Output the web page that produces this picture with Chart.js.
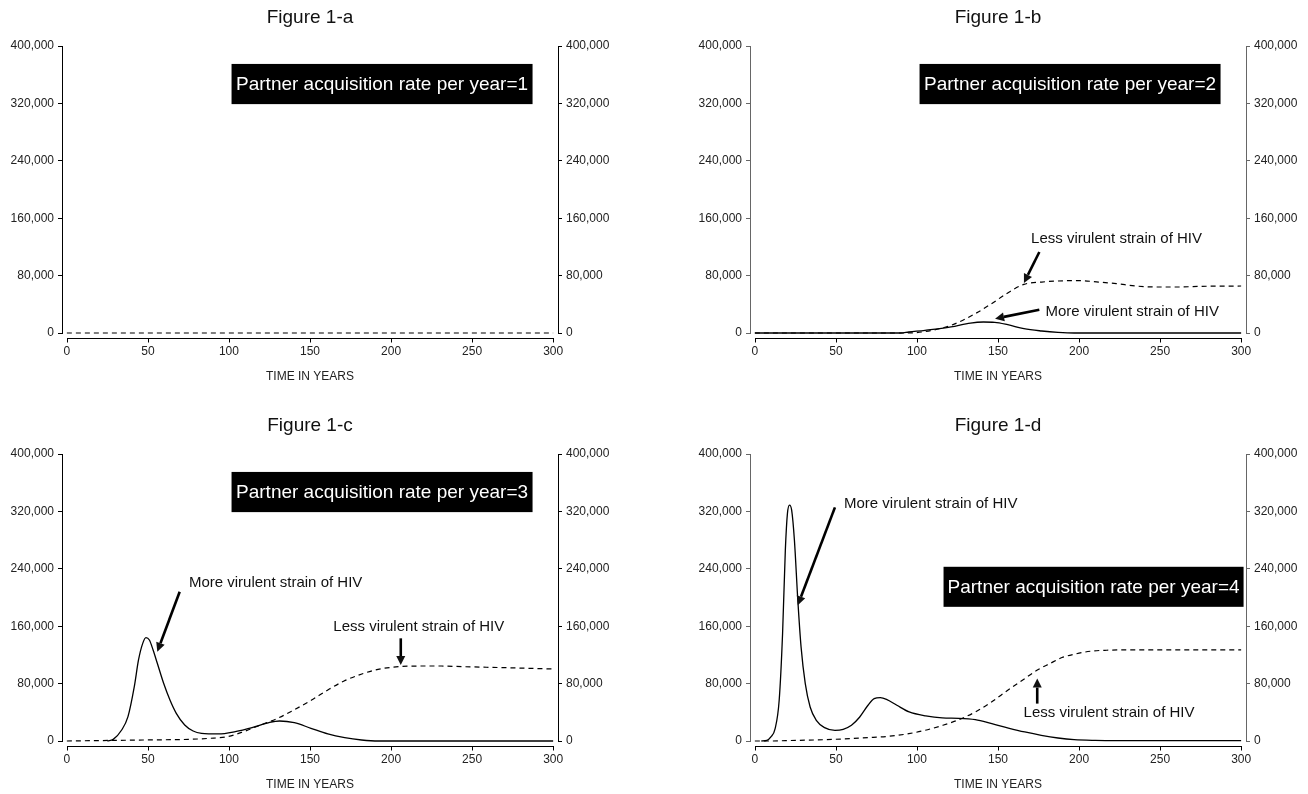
<!DOCTYPE html>
<html>
<head>
<meta charset="utf-8">
<title>Figure 1 – HIV strain competition</title>
<script src="https://cdn.jsdelivr.net/npm/chart.js@4.4.1/dist/chart.umd.min.js"></script>
<style>
  body { margin: 0; background: #fff; }
  .panel { position: absolute; width: 620px; height: 386px; }
</style>
</head>
<body>
<div class="panel" style="left:0;top:0"><canvas id="fig-a" width="620" height="386"></canvas></div>
<div class="panel" style="left:688px;top:0"><canvas id="fig-b" width="620" height="386"></canvas></div>
<div class="panel" style="left:0;top:408px"><canvas id="fig-c" width="620" height="386"></canvas></div>
<div class="panel" style="left:688px;top:408px"><canvas id="fig-d" width="620" height="386"></canvas></div>
<script>
const FONT = '"Liberation Sans", Arial, Helvetica, sans-serif'

const X_TICKS = [0, 50, 100, 150, 200, 250, 300]
const Y_TICKS = [0, 80000, 160000, 240000, 320000, 400000]

// Figure 1-a (rate = 1): nothing takes off
const lessYearsA = [0, 300]
const lessA = [0, 0]

// Figure 1-b (rate = 2)
const moreYearsB = [0, 90, 95, 105, 121, 133, 141, 148, 156, 166, 177, 187, 197, 210, 300]
const moreB = [0, 0, 1400, 3700, 8400, 13900, 15300, 14900, 11600, 6000, 2800, 900, 0, 0, 0]
const lessYearsB = [0, 90, 103, 121, 136, 146, 156, 166, 177, 187, 200, 212, 223, 235, 248, 261, 274, 300]
const lessB = [0, 0, 1400, 10700, 27000, 40900, 55800, 67800, 71000, 72500, 73000, 71000, 68800, 65500, 64100, 64100, 65000, 65500]

// Figure 1-c (rate = 3)
const moreYearsC = [25, 28.6, 33.8, 37.7, 41.6, 44.2, 46.8, 48.8, 50.9, 53.2, 55.8, 59.7, 63.6, 67.5, 72.7, 77.9, 83.1, 93.5, 103.9, 114.3, 124.7, 131.2, 140.3, 150.6, 161, 171.4, 181.8, 192.2, 300]
const moreC = [0, 2300, 15300, 33900, 75700, 112900, 136100, 144000, 140800, 126800, 108300, 80400, 57100, 38600, 22300, 13900, 10700, 9800, 13000, 18600, 25600, 27900, 25600, 17700, 9800, 4600, 1400, 0, 0]
const lessYearsC = [0, 47, 75, 88, 99, 109, 119.5, 130, 140, 151, 161, 171, 182, 192, 205, 218, 231, 244, 270, 300]
const lessC = [0, 1400, 2300, 3700, 6000, 13000, 22300, 31600, 43200, 57100, 71100, 83600, 93400, 99900, 103600, 104500, 104500, 103600, 102200, 100400]

// Figure 1-d (rate = 4)
const moreYearsD = [4, 7.4, 9.9, 12.5, 15, 17.1, 18.8, 20.1, 21.4, 22.7, 24.4, 26.5, 28.5, 31.1, 34.1, 37.9, 43, 49.4, 54.5, 59.6, 64.7, 69.8, 73.6, 77.4, 81.2, 87.6, 95.2, 105.4, 115.6, 125.8, 136, 146.2, 156.4, 166.5, 176.7, 187, 197, 210, 223, 300]
const moreD = [0, 900, 5600, 17200, 56700, 149800, 266000, 317200, 328800, 321800, 280000, 196300, 131200, 80000, 47400, 28800, 18600, 14900, 16300, 21900, 33500, 49800, 59100, 60500, 58100, 49800, 40500, 34900, 32100, 31600, 29800, 24200, 18100, 12600, 7900, 4200, 1900, 900, 600, 600]
const lessYearsD = [0, 10, 19, 44, 70, 82.5, 95, 105, 116, 126, 136, 146, 156, 166.5, 174, 182, 189.5, 197, 207, 217, 235, 300]
const lessD = [0, 0, 500, 1900, 4700, 6500, 10200, 14900, 21900, 29800, 40500, 54400, 70700, 87000, 98600, 107900, 116300, 120900, 125100, 126500, 127000, 127000]

const MORE_LABEL = 'More virulent strain of HIV'
const LESS_LABEL = 'Less virulent strain of HIV'

function toPoints(years, values) {
  return years.map((x, i) => ({ x, y: values[i] }))
}

function drawArrow(ctx, x1, y1, x2, y2) {
  const ang = Math.atan2(y2 - y1, x2 - x1)
  const head = 9, half = 4.5
  const bx = x2 - head * Math.cos(ang), by = y2 - head * Math.sin(ang)
  ctx.beginPath()
  ctx.lineWidth = 2.6
  ctx.moveTo(x1, y1)
  ctx.lineTo(bx, by)
  ctx.stroke()
  ctx.beginPath()
  ctx.moveTo(x2, y2)
  ctx.lineTo(bx + half * Math.sin(ang), by - half * Math.cos(ang))
  ctx.lineTo(bx - half * Math.sin(ang), by + half * Math.cos(ang))
  ctx.closePath()
  ctx.fill()
}

// title, detached x axis, the black rate box and the arrow callouts
const figureDecor = {
  id: 'figureDecor',
  afterDraw(chart, args, opts) {
    const { ctx, chartArea, scales } = chart
    const sx = scales.x, sy = scales.y
    ctx.save()

    ctx.fillStyle = '#111'
    ctx.font = '19px ' + FONT
    ctx.textAlign = 'center'
    ctx.textBaseline = 'middle'
    ctx.fillText(opts.title, (chartArea.left + chartArea.right) / 2, 18)

    const axisY = Math.round(chartArea.bottom) + 5.5
    ctx.strokeStyle = '#000'
    ctx.lineWidth = 1
    ctx.beginPath()
    ctx.moveTo(Math.round(sx.getPixelForValue(X_TICKS[0])), axisY)
    ctx.lineTo(Math.round(sx.getPixelForValue(X_TICKS[X_TICKS.length - 1])) + 1, axisY)
    X_TICKS.forEach(t => {
      const px = Math.round(sx.getPixelForValue(t)) + 0.5
      ctx.moveTo(px, axisY)
      ctx.lineTo(px, axisY + 4)
    })
    ctx.stroke()

    if (opts.note) {
      const n = opts.note
      const l = sx.getPixelForValue(n.x0), r = sx.getPixelForValue(n.x1)
      const t = sy.getPixelForValue(n.y0), b = sy.getPixelForValue(n.y1)
      ctx.fillStyle = '#000'
      ctx.fillRect(l, t, r - l, b - t)
      ctx.fillStyle = '#fff'
      ctx.font = '19px ' + FONT
      ctx.fillText(n.text, (l + r) / 2, (t + b) / 2 + 1)
    }

    ctx.fillStyle = '#111'
    ctx.strokeStyle = '#000'
    ctx.font = '15px ' + FONT
    ctx.textAlign = 'left'
    ;(opts.callouts || []).forEach(c => {
      ctx.fillText(c.text, sx.getPixelForValue(c.tx), sy.getPixelForValue(c.ty))
      drawArrow(ctx,
        sx.getPixelForValue(c.from[0]), sy.getPixelForValue(c.from[1]),
        sx.getPixelForValue(c.to[0]), sy.getPixelForValue(c.to[1]))
    })
    ctx.restore()
  },
}

function yAxis(position, axisColor) {
  return {
    type: 'linear',
    position,
    min: 0,
    max: 400000,
    afterBuildTicks: s => { s.ticks = Y_TICKS.map(v => ({ value: v })) },
    afterFit: s => { s.width = 62 },
    grid: { drawOnChartArea: false, drawTicks: true, tickLength: 4, color: axisColor },
    border: { display: true, color: axisColor },
    ticks: {
      padding: 4,
      color: '#222',
      font: { size: 12, family: FONT },
      callback: v => v.toLocaleString('en-US'),
    },
  }
}

function makeFigure(id, cfg) {
  const datasets = []
  if (cfg.more) {
    datasets.push({
      label: MORE_LABEL,
      data: cfg.more,
      borderColor: '#000',
      borderWidth: 1.3,
      pointRadius: 0,
      cubicInterpolationMode: 'monotone',
      clip: 4,
    })
  }
  datasets.push({
    label: LESS_LABEL,
    data: cfg.less,
    borderColor: '#000',
    borderWidth: 1.2,
    borderDash: [5, 4],
    pointRadius: 0,
    cubicInterpolationMode: 'monotone',
    clip: 4,
  })

  return new Chart(document.getElementById(id), {
    type: 'line',
    data: { datasets },
    options: {
      responsive: false,
      animation: false,
      layout: { padding: { top: 46, left: 0, right: 0, bottom: 0 } },
      plugins: {
        legend: { display: false },
        tooltip: { enabled: false },
        figureDecor: { title: cfg.title, note: cfg.note, callouts: cfg.callouts },
      },
      scales: {
        x: {
          type: 'linear',
          min: -3,
          max: 303,
          afterBuildTicks: s => { s.ticks = X_TICKS.map(v => ({ value: v })) },
          afterFit: s => { s.height = 53 },
          grid: { display: false, drawTicks: false },
          border: { display: false },
          ticks: { padding: 11, color: '#222', maxRotation: 0, font: { size: 12, family: FONT } },
          title: {
            display: true,
            text: 'TIME IN YEARS',
            color: '#222',
            font: { size: 12, family: FONT },
            padding: { top: 0, bottom: 2 },
          },
        },
        y: yAxis('left', cfg.axisColor),
        y2: yAxis('right', cfg.axisColor),
      },
    },
    plugins: [figureDecor],
  })
}

const topNote = { x0: 101.6, x1: 287.3, y0: 375000, y1: 319000 }

makeFigure('fig-a', {
  title: 'Figure 1-a',
  axisColor: '#000',
  less: toPoints(lessYearsA, lessA),
  note: { ...topNote, text: 'Partner acquisition rate per year=1' },
})

makeFigure('fig-b', {
  title: 'Figure 1-b',
  axisColor: '#666',
  more: toPoints(moreYearsB, moreB),
  less: toPoints(lessYearsB, lessB),
  note: { ...topNote, text: 'Partner acquisition rate per year=2' },
  callouts: [
    { text: LESS_LABEL, tx: 170.4, ty: 131500, from: [175.5, 112900], to: [166, 69700] },
    { text: MORE_LABEL, tx: 179.3, ty: 29300, from: [175.5, 32500], to: [148.2, 20000] },
  ],
})

makeFigure('fig-c', {
  title: 'Figure 1-c',
  axisColor: '#000',
  more: toPoints(moreYearsC, moreC),
  less: toPoints(lessYearsC, lessC),
  note: { ...topNote, text: 'Partner acquisition rate per year=3' },
  callouts: [
    { text: MORE_LABEL, tx: 75.3, ty: 219800, from: [69.6, 208100], to: [55.8, 124500] },
    { text: LESS_LABEL, tx: 164.4, ty: 159400, from: [206, 143100], to: [206, 105900] },
  ],
})

makeFigure('fig-d', {
  title: 'Figure 1-d',
  axisColor: '#666',
  more: toPoints(moreYearsD, moreD),
  less: toPoints(lessYearsD, lessD),
  note: { x0: 116.4, x1: 301.5, y0: 242800, y1: 187000, text: 'Partner acquisition rate per year=4' },
  callouts: [
    { text: MORE_LABEL, tx: 55, ty: 331100, from: [49.4, 325600], to: [26.5, 189300] },
    { text: LESS_LABEL, tx: 165.8, ty: 39500, from: [174.2, 52100], to: [174.2, 87000] },
  ],
})
</script>
</body>
</html>
